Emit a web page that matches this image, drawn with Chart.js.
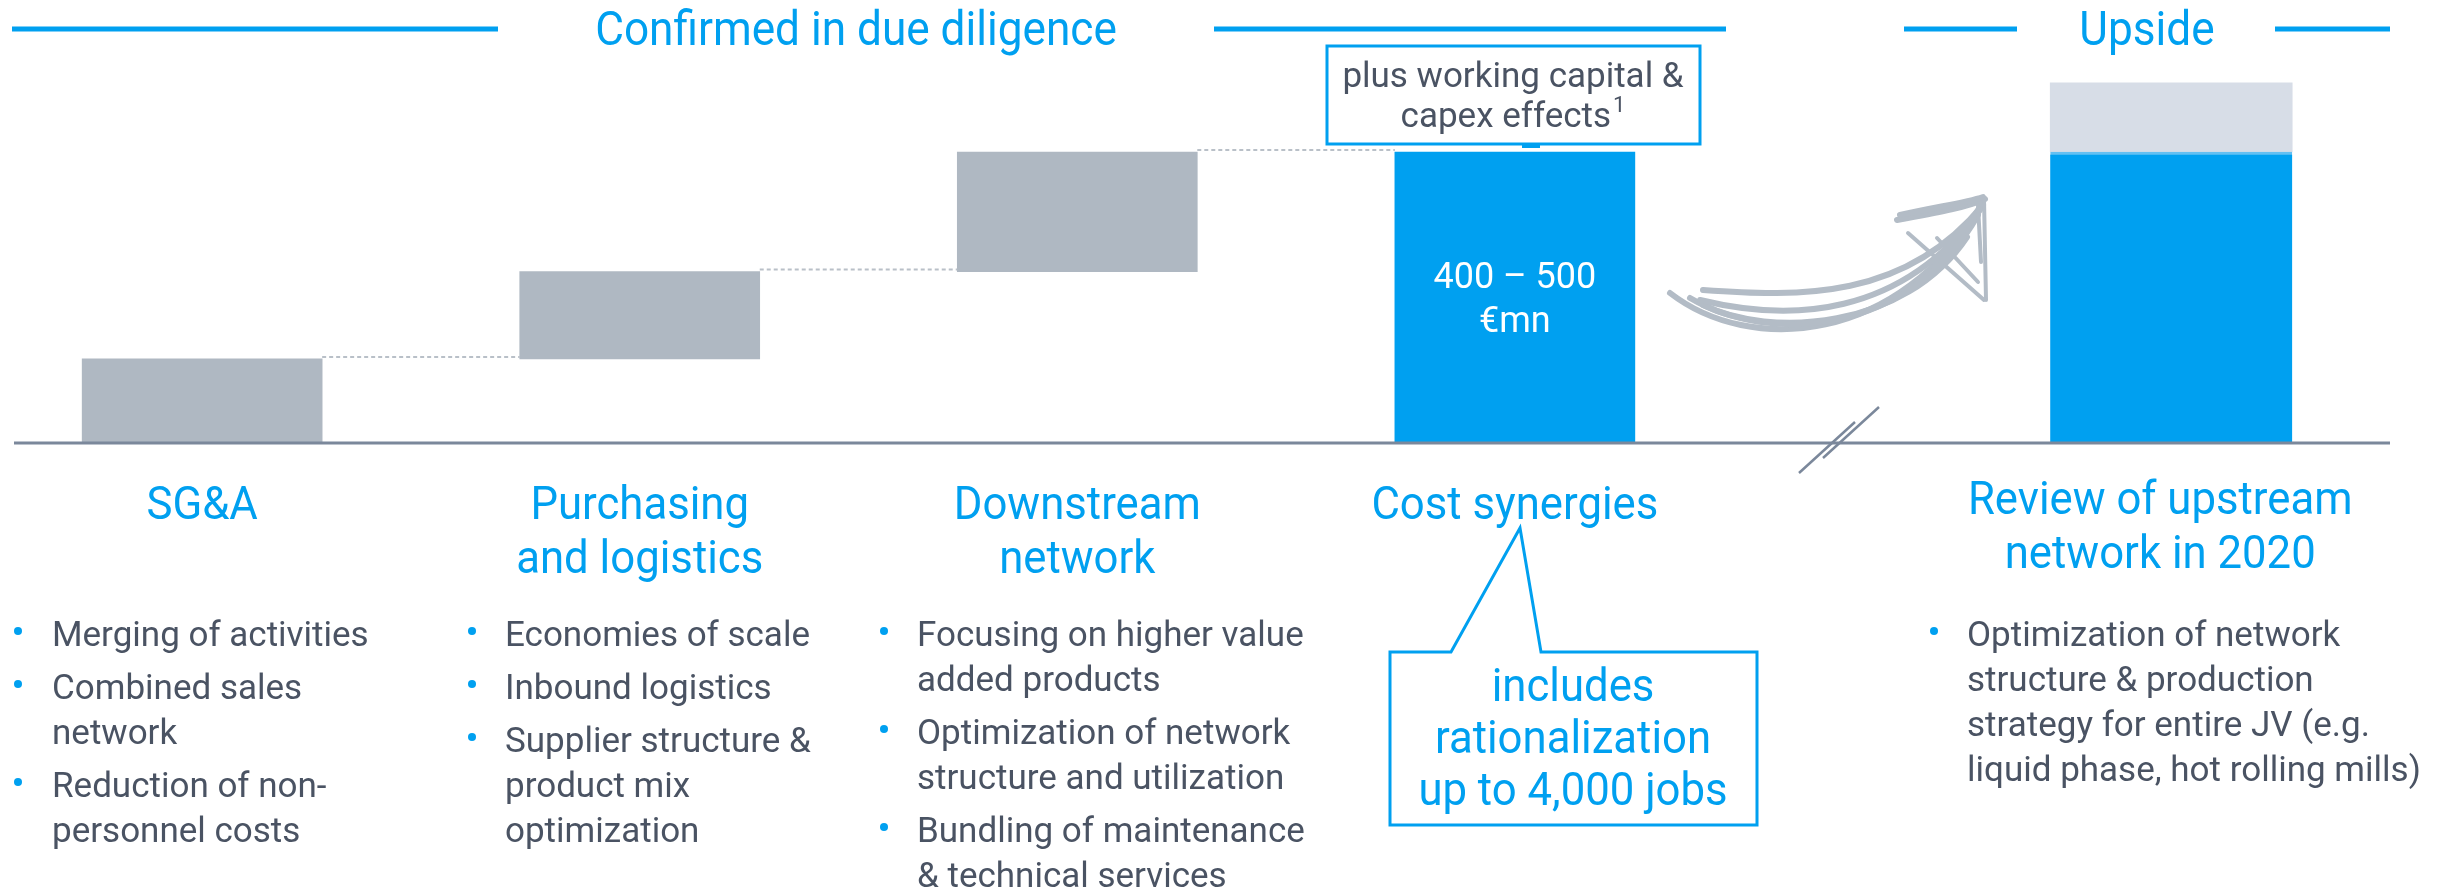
<!DOCTYPE html>
<html>
<head>
<meta charset="utf-8">
<script src="https://cdn.jsdelivr.net/npm/chart.js@4.4.1/dist/chart.umd.min.js"></script>
<style>
    html, body { margin: 0; padding: 0; background: #ffffff; }
    #wrap { width: 2445px; height: 888px; position: relative; }
</style>
</head>
<body>
<div id="wrap"><canvas id="synergyChart"></canvas></div>
<script>
// Cost synergy waterfall (illustrative €mn)
const categories = ['SG&A', 'Purchasing and logistics', 'Downstream network', 'Cost synergies', 'Review of upstream network in 2020'];
const categorySlots = [0, 1, 2, 3, 4.5];   // extra half slot = axis break before the upside bar
const stepValues = [130, 135, 185];
const upsideExtra = 107;
const totalLabel = ['400 – 500', '€mn'];

const headings = [
    ['SG&A'],
    ['Purchasing', 'and logistics'],
    ['Downstream', 'network'],
    ['Cost synergies'],
    ['Review of upstream', 'network in 2020']
];
const bullets = [
    [['Merging of activities'], ['Combined sales', 'network'], ['Reduction of non-', 'personnel costs']],
    [['Economies of scale'], ['Inbound logistics'], ['Supplier structure &', 'product mix', 'optimization']],
    [['Focusing on higher value', 'added products'], ['Optimization of network', 'structure and utilization'], ['Bundling of maintenance', '& technical services']],
    [],
    [['Optimization of network', 'structure & production', 'strategy for entire JV (e.g.', 'liquid phase, hot rolling mills)']]
];
const calloutLines = ['includes', 'rationalization', 'up to 4,000 jobs'];
const noteLines = ['plus working capital &', 'capex effects'];

// cumulative waterfall
const stepStarts = [];
let running = 0;
stepValues.forEach(v => { stepStarts.push(running); running += v; });
const total = running;

const BLUE = '#00a0f0';
const GREY_BAR = '#afb8c2';
const TEXT = '#4a5363';
const AXIS = '#7b889b';

function txt(ctx, s, x, y, size, color, align, sx) {
    ctx.save();
    ctx.font = size + 'px Roboto';
    ctx.fillStyle = color;
    ctx.textAlign = align || 'left';
    ctx.textBaseline = 'alphabetic';
    ctx.translate(x, y);
    ctx.scale(sx || 1, 1);
    ctx.fillText(s, 0, 0);
    ctx.restore();
}

function rule(ctx, x1, x2, y) {
    ctx.fillStyle = BLUE;
    ctx.fillRect(x1, y - 2.5, x2 - x1, 5);
}

const slideDecor = {
    id: 'slideDecor',
    beforeDraw(chart) {
        const ctx = chart.ctx;
        ctx.save();
        ctx.fillStyle = '#ffffff';
        ctx.fillRect(0, 0, chart.width, chart.height);
        ctx.restore();
    },
    afterDatasetsDraw(chart) {
        const ctx = chart.ctx;
        const y = chart.scales.y;
        const area = chart.chartArea;
        const steps = chart.getDatasetMeta(0).data;
        const totalBar = chart.getDatasetMeta(1).data[0];

        // dotted connectors between the waterfall steps
        ctx.save();
        ctx.strokeStyle = '#b9c0c8';
        ctx.lineWidth = 2;
        ctx.setLineDash([4, 3]);
        steps.forEach((bar, i) => {
            const next = i < steps.length - 1 ? steps[i + 1] : totalBar;
            const yy = y.getPixelForValue(stepStarts[i] + stepValues[i]) - 2;
            ctx.beginPath();
            ctx.moveTo(bar.x + bar.width / 2, yy);
            ctx.lineTo(next.x - next.width / 2, yy);
            ctx.stroke();
        });
        ctx.restore();

        // baseline
        const y0 = y.getPixelForValue(0);
        ctx.save();
        ctx.fillStyle = AXIS;
        ctx.fillRect(area.left, y0 - 1.5, area.right - area.left, 3);
        ctx.restore();
    },
    afterDraw(chart) {
        const ctx = chart.ctx;
        const bars = [
            ...chart.getDatasetMeta(0).data,
            chart.getDatasetMeta(1).data[0],
            chart.getDatasetMeta(2).data[0]
        ];

        // section headers
        rule(ctx, 12, 498, 29);
        rule(ctx, 1214, 1726, 29);
        rule(ctx, 1904, 2017, 29);
        rule(ctx, 2275, 2390, 29);
        txt(ctx, 'Confirmed in due diligence', 856, 45, 48, BLUE, 'center', 0.92);
        txt(ctx, 'Upside', 2147, 45, 48, BLUE, 'center', 0.92);

        // total bar label
        const tb = bars[3];
        txt(ctx, totalLabel[0], tb.x, 288, 36, '#ffffff', 'center', 1);
        txt(ctx, totalLabel[1], tb.x, 332, 36, '#ffffff', 'center', 1);

        // note box above the total bar
        ctx.save();
        ctx.fillStyle = '#ffffff';
        ctx.fillRect(1327, 46, 373, 98);
        ctx.strokeStyle = BLUE;
        ctx.lineWidth = 3;
        ctx.strokeRect(1327, 46, 373, 98);
        ctx.fillStyle = BLUE;
        ctx.fillRect(1522, 143, 18, 5);
        ctx.restore();
        txt(ctx, noteLines[0], 1513, 87, 35, TEXT, 'center', 1);
        ctx.save();
        ctx.font = '35px Roboto';
        const w2 = ctx.measureText(noteLines[1]).width;
        ctx.font = '22px Roboto';
        const ws = ctx.measureText('1').width;
        ctx.restore();
        const x2 = 1513 - (w2 + ws + 2) / 2;
        txt(ctx, noteLines[1], x2, 127, 35, TEXT, 'left', 1);
        txt(ctx, '1', x2 + w2 + 2, 112, 22, TEXT, 'left', 1);

        // category headings
        const headY = [519, 519, 519, 519, 514];
        headings.forEach((lines, i) => {
            const cx = i === 4 ? bars[i].x - 11 : bars[i].x;
            lines.forEach((s, j) => txt(ctx, s, cx, headY[i] + j * 54, 46, BLUE, 'center', 0.95));
        });

        // bullet lists
        const bulletX = [18, 472, 884, null, 1934];
        const textX = [52, 505, 917, null, 1967];
        bullets.forEach((items, c) => {
            let base = 646;
            items.forEach(lines => {
                ctx.save();
                ctx.fillStyle = BLUE;
                ctx.beginPath();
                ctx.arc(bulletX[c], base - 15, 4, 0, Math.PI * 2);
                ctx.fill();
                ctx.restore();
                lines.forEach((s, j) => txt(ctx, s, textX[c], base + j * 45, 35, TEXT, 'left', 1));
                base += (lines.length - 1) * 45 + 53;
            });
        });

        // callout under "Cost synergies"
        ctx.save();
        ctx.beginPath();
        ctx.moveTo(1390, 652);
        ctx.lineTo(1451, 652);
        ctx.lineTo(1520, 528);
        ctx.lineTo(1541, 652);
        ctx.lineTo(1757, 652);
        ctx.lineTo(1757, 825);
        ctx.lineTo(1390, 825);
        ctx.closePath();
        ctx.fillStyle = '#ffffff';
        ctx.fill();
        ctx.strokeStyle = BLUE;
        ctx.lineWidth = 3;
        ctx.lineJoin = 'miter';
        ctx.stroke();
        ctx.restore();
        calloutLines.forEach((s, j) => txt(ctx, s, 1573, 701 + j * 52, 46, BLUE, 'center', 0.95));

        // axis break marks
        ctx.save();
        ctx.strokeStyle = AXIS;
        ctx.lineWidth = 2.5;
        ctx.beginPath();
        ctx.moveTo(1799, 473); ctx.lineTo(1855, 422);
        ctx.moveTo(1823, 458); ctx.lineTo(1879, 407);
        ctx.stroke();
        ctx.restore();

        // hand-drawn arrow towards the upside
        ctx.save();
        ctx.strokeStyle = '#b3bcc6';
        ctx.lineWidth = 6;
        ctx.lineCap = 'round';
        ctx.lineJoin = 'round';
        const strokes = [
            [1670, 293, 1750, 355, 1900, 345, 1983, 202],
            [1703, 290, 1800, 297, 1905, 300, 1983, 205],
            [1703, 305, 1770, 338, 1905, 330, 1967, 237],
            [1690, 298, 1770, 345, 1910, 335, 1978, 215],
            [1700, 300, 1790, 322, 1900, 318, 1980, 210],
            [1897, 220, 1935, 213, 1965, 208, 1985, 199],
            [1900, 215, 1940, 206, 1965, 203, 1983, 197]
        ];
        strokes.forEach(p => {
            ctx.beginPath();
            ctx.moveTo(p[0], p[1]);
            ctx.bezierCurveTo(p[2], p[3], p[4], p[5], p[6], p[7]);
            ctx.stroke();
        });
        ctx.lineWidth = 4;
        ctx.beginPath();
        ctx.moveTo(1984, 199); ctx.lineTo(1986, 300);
        ctx.moveTo(1908, 233); ctx.lineTo(1984, 300);
        ctx.moveTo(1937, 238); ctx.lineTo(1978, 282);
        ctx.moveTo(1978, 205); ctx.lineTo(1981, 262);
        ctx.stroke();
        ctx.restore();
    }
};

new Chart(document.getElementById('synergyChart'), {
    type: 'bar',
    data: {
        datasets: [{
            label: 'Steps',
            data: stepValues.map((v, i) => ({ x: categorySlots[i], y: [stepStarts[i], stepStarts[i] + v] })),
            backgroundColor: GREY_BAR,
            grouped: false,
            barThickness: 240
        }, {
            label: 'Cost synergies',
            data: [{ x: categorySlots[3], y: [0, total] }],
            backgroundColor: BLUE,
            grouped: false,
            barThickness: 240
        }, {
            label: 'Upside base',
            data: [{ x: categorySlots[4], y: [0, total] }],
            backgroundColor: BLUE,
            borderColor: '#62c0f3',
            borderWidth: { top: 3, left: 0, right: 0, bottom: 0 },
            borderSkipped: false,
            grouped: false,
            barThickness: 242
        }, {
            label: 'Upside',
            data: [{ x: categorySlots[4], y: [total, total + upsideExtra] }],
            backgroundColor: '#d7dde7',
            grouped: false,
            barThickness: 242
        }]
    },
    options: {
        responsive: true,
        maintainAspectRatio: false,
        animation: false,
        layout: {
            padding: { left: 14, right: 55, top: 0, bottom: 445 }
        },
        plugins: {
            legend: { display: false },
            tooltip: { enabled: false }
        },
        scales: {
            x: { type: 'linear', display: false, offset: false, grid: { offset: false }, min: -0.43, max: 5.0 },
            y: { display: false, min: 0, max: 685 }
        }
    },
    plugins: [slideDecor]
});
</script>
</body>
</html>
